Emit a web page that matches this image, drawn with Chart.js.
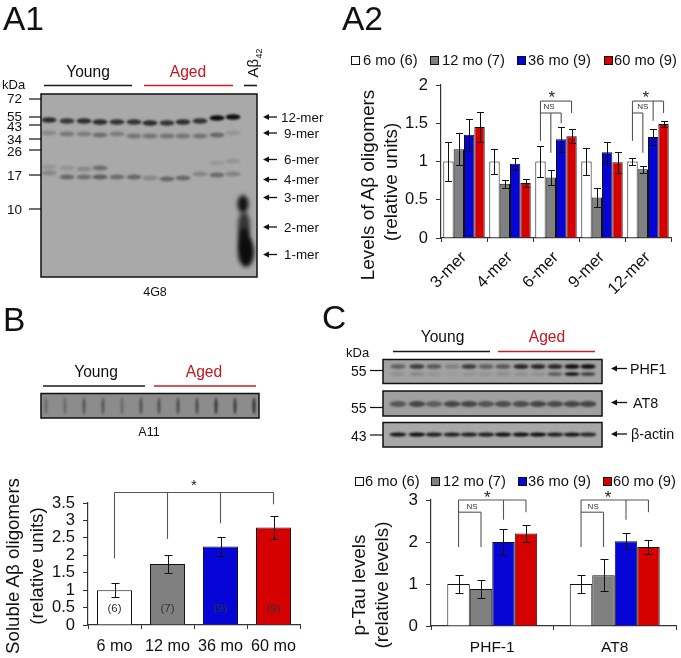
<!DOCTYPE html>
<html>
<head>
<meta charset="utf-8">
<title>Oligomers and p-Tau</title>
<script src="https://cdn.jsdelivr.net/npm/chart.js@4"></script>
<style>
  html, body { margin: 0; padding: 0; background: #fff; overflow: hidden; }
  #page { position: relative; width: 681px; height: 658px; font-family: "Liberation Sans", Arial, sans-serif; color: #111; }
  #page canvas { position: absolute; }
  .txt { position: absolute; white-space: nowrap; line-height: 1; }
  .txt sub { font-size: 62%; line-height: 0; }
  .swatch { position: absolute; box-sizing: border-box; border: 1px solid #111; }
</style>
</head>
<body>
<div id="page"><canvas id="blots" width="681" height="658" style="left:0;top:0"></canvas></div>
<script>
// series colours and legend
const seriesColors = ["#ffffff", "#808080", "#0505d8", "#d50000"];
const legendLabels = ["6 mo (6)", "12 mo (7)", "36 mo (9)", "60 mo (9)"];

// A2: levels of oligomers
const a2Categories = ["3-mer", "4-mer", "6-mer", "9-mer", "12-mer"];
const a2YTicks = [0, 0.5, 1, 1.5, 2];
const a2Six = [1, 1, 1, 1, 1];
const a2Twelve = [1.16, 0.71, 0.79, 0.53, 0.9];
const a2ThirtySix = [1.35, 0.97, 1.29, 1.12, 1.32];
const a2Sixty = [1.45, 0.72, 1.33, 0.99, 1.49];
const a2SixErr = [0.26, 0.16, 0.2, 0.17, 0.04];
const a2TwelveErr = [0.21, 0.05, 0.1, 0.12, 0.045];
const a2ThirtySixErr = [0.21, 0.08, 0.16, 0.14, 0.11];
const a2SixtyErr = [0.2, 0.05, 0.09, 0.14, 0.04];

// B: soluble oligomers
const bCategories = ["6 mo", "12 mo", "36 mo", "60 mo"];
const bYTicks = [0, 0.5, 1, 1.5, 2, 2.5, 3, 3.5];
const bValues = [1, 1.75, 2.25, 2.8];
const bErr = [0.2, 0.27, 0.27, 0.32];
const bCounts = ["(6)", "(7)", "(9)", "(9)"];

// C: p-Tau
const cCategories = ["PHF-1", "AT8"];
const cYTicks = [0, 1, 2, 3];
const cSix = [1, 1];
const cTwelve = [0.88, 1.21];
const cThirtySix = [2, 2.02];
const cSixty = [2.2, 1.88];
const cSixErr = [0.21, 0.21];
const cTwelveErr = [0.21, 0.38];
const cThirtySixErr = [0.3, 0.19];
const cSixtyErr = [0.2, 0.17];

// significance brackets, [category, bar, value, category, bar, value]
const groupLines = (cat, rows) => rows.map(r => [cat, r[0], r[1], cat, r[2], r[3]]);
const a2Brackets = [
  ...groupLines(2, [[0, 1.79, 3, 1.79], [0, 1.79, 0, 1.27], [3, 1.79, 3, 1.634], [0, 1.634, 2, 1.634], [1, 1.634, 1, 1.115], [2, 1.634, 2, 1.5]]),
  ...groupLines(4, [[0, 1.79, 3, 1.79], [0, 1.79, 0, 1.27], [3, 1.79, 3, 1.634], [0, 1.634, 1, 1.634], [1, 1.634, 1, 1.115], [2, 1.79, 2, 1.533]])
];
const cBrackets = [0, 1].flatMap(cat => groupLines(cat, [[0, 3, 3, 3], [0, 3, 0, 1.88], [3, 3, 3, 2.71], [0, 2.71, 1, 2.71], [1, 2.71, 1, 1.88], [2, 3, 2, 2.53]]));
const bBrackets = [[0, 0, 3.8, 3, 0, 3.8], [0, 0, 3.8, 0, 0, 1.91], [1, 0, 3.8, 1, 0, 2.47], [2, 0, 3.8, 2, 0, 2.92], [3, 0, 3.8, 3, 0, 3.46]];

// notes placed on the plots: [category, bar, value, text, font, colour]
const a2Notes = [
  [2, 1.1, 1.83, "*", "17px", "#222"], [4, 1.28, 1.83, "*", "17px", "#222"],
  [2, 0.83, 1.71, "NS", "8px", "#333"], [4, 0.99, 1.71, "NS", "8px", "#333"]
];
const cNotes = [
  [0, 1.28, 3.03, "*", "17px", "#222"], [1, 1.2, 3.03, "*", "17px", "#222"],
  [0, 0.6, 2.85, "NS", "8px", "#333"], [1, 0.54, 2.85, "NS", "8px", "#333"]
];
const bNotes = [
  [1.5, 0, 4.0, "*", "15px", "#222"],
  ...bCounts.map((t, i) => [i, 0, 0.46, t, "11.5px", "#333"])
];

// blot lanes (darkness per lane)
const a1Lanes = [49, 67, 84, 100, 117, 134, 150, 167, 183, 200, 217, 233];
const a1Rows = [
  { y: [120, 121, 121, 122, 122, 122, 123, 123, 122, 121, 118, 117], dark: [0.8, 0.72, 0.78, 0.8, 0.75, 0.75, 0.8, 0.75, 0.78, 0.75, 1, 1], h: 2.8 },
  { y: [133, 134, 134, 135, 134, 136, 136, 136, 136, 136, 135, 133], dark: [0.2, 0.32, 0.28, 0.38, 0.28, 0.34, 0.34, 0.34, 0.34, 0.34, 0.42, 0.12], h: 2.4 },
  { y: [173, 177, 177, 177, 177, 177, 178, 179, 178, 174, 175, 174], dark: [0.22, 0.42, 0.38, 0.48, 0.38, 0.42, 0.2, 0.42, 0.42, 0.22, 0.4, 0.24], h: 2.6 },
  { y: [167, 168, 169, 168, 0, 0, 0, 0, 0, 0, 163, 161], dark: [0.12, 0.12, 0.2, 0.38, 0, 0, 0, 0, 0, 0, 0.1, 0.12], h: 2.4 }
];
const a1Smear = [[243, 204, 5.5, 9, 0.95], [244, 226, 6, 14, 0.75], [246, 252, 8, 15, 1], [244, 240, 6, 12, 0.9]];
const bSlots = [46, 65, 84, 103, 122, 141, 159, 178, 197, 216, 235, 254];
const bSlotDark = [0.3, 0.3, 0.45, 0.45, 0.3, 0.5, 0.5, 0.55, 0.55, 0.7, 0.65, 0.75];
const cLanes = [398, 417, 434, 452, 469, 486, 503, 521, 538, 555, 572, 588];
const phfTop = [0.45, 0.7, 0.5, 0.22, 0.7, 0.45, 0.5, 0.85, 0.85, 0.85, 1, 1];
const phfLow = [0.12, 0.18, 0.1, 0.05, 0.1, 0.1, 0.15, 0.12, 0.12, 0.5, 1, 0.7];
const at8Dark = [0.5, 0.62, 0.45, 0.62, 0.62, 0.52, 0.58, 0.58, 0.62, 0.58, 0.62, 0.62];
const actinDark = [0.95, 1, 0.9, 0.9, 0.9, 0.9, 1, 1, 1, 0.9, 0.95, 0.85];

const page = document.getElementById("page");

// plain html text, x/y is the anchor point
function addText(text, x, y, size, opts = {}) {
  const el = document.createElement("div");
  el.className = "txt";
  el.innerHTML = text;
  el.style.left = x + "px";
  el.style.top = y + "px";
  el.style.fontSize = size + "px";
  if (opts.color) el.style.color = opts.color;
  const tx = opts.align === "left" ? "0" : opts.align === "right" ? "-100%" : "-50%";
  el.style.transform = `translate(${tx}, -50%)` + (opts.rotate ? ` rotate(${opts.rotate}deg)` : "");
  page.appendChild(el);
}

function addLegend(y, swatchX, textX, size) {
  legendLabels.forEach((label, i) => {
    const s = document.createElement("div");
    s.className = "swatch";
    s.style.cssText = `left:${swatchX[i]}px;top:${y - 4.5}px;width:9px;height:9px;background:${seriesColors[i]}`;
    page.appendChild(s);
    addText(label, textX[i], y, size, { align: "left" });
  });
}

// draws a blot panel, bands are [x, y, rx, ry, darkness, blur]
function drawBlot(ctx, x, y, w, h, bg, bands) {
  ctx.save();
  ctx.beginPath();
  ctx.rect(x, y, w, h);
  ctx.clip();
  ctx.fillStyle = bg;
  ctx.fillRect(x, y, w, h);
  bands.forEach(([cx, cy, rx, ry, dark, blur]) => {
    ctx.filter = `blur(${blur}px)`;
    ctx.fillStyle = `rgba(12,12,12,${dark})`;
    ctx.beginPath();
    ctx.ellipse(cx, cy, rx, ry, 0, 0, Math.PI * 2);
    ctx.fill();
  });
  ctx.restore();
  ctx.strokeStyle = "#111";
  ctx.lineWidth = 1.5;
  ctx.strokeRect(x, y, w, h);
}

function line(ctx, x1, y1, x2, y2, color = "#111", width = 1.2) {
  ctx.strokeStyle = color;
  ctx.lineWidth = width;
  ctx.beginPath();
  ctx.moveTo(x1, y1);
  ctx.lineTo(x2, y2);
  ctx.stroke();
}

function arrow(ctx, x1, x2, y) {
  line(ctx, x1 + 4, y, x2, y, "#111", 1.3);
  ctx.fillStyle = "#111";
  ctx.beginPath();
  ctx.moveTo(x1, y);
  ctx.lineTo(x1 + 6, y - 3);
  ctx.lineTo(x1 + 6, y + 3);
  ctx.fill();
}

// blots and their furniture
const bctx = document.getElementById("blots").getContext("2d");

const a1Bands = [];
a1Rows.forEach(row => a1Lanes.forEach((x, i) => {
  if (row.dark[i] > 0) a1Bands.push([x, row.y[i], 7.5, row.h, row.dark[i], 1.2]);
}));
a1Smear.forEach(s => a1Bands.push([...s, 2]));
drawBlot(bctx, 41, 94, 216, 183, "#a9a9a9", a1Bands);

drawBlot(bctx, 41, 393.5, 218, 24.5, "#8c8c8c",
  bSlots.map((x, i) => [x, 406, 1.4, 8.5, bSlotDark[i], 1]));

drawBlot(bctx, 383, 359.5, 219, 24, "#a2a2a2", cLanes.flatMap((x, i) => [
  [x, 366.5, 7.5, 2.3, phfTop[i], 1],
  [x, 374, 7.5, 1.8, phfLow[i], 1]
]));
drawBlot(bctx, 383, 391, 219, 25, "#a0a0a0", cLanes.map((x, i) => [x, 404, 8.5, 3, at8Dark[i], 1.3]));
drawBlot(bctx, 383, 422.5, 219, 24.5, "#a8a8a8", cLanes.map((x, i) => [x, 434.5, 8.5, 2, actinDark[i], 0.8]));

// Young / Aged rules
const black = "#1a1a1a", red = "#c81e28";
line(bctx, 44, 85.5, 132, 85.5, black, 1.6); line(bctx, 144, 85.5, 233, 85.5, red, 1.6); line(bctx, 244, 85.5, 257, 85.5, black, 1.6);
line(bctx, 43, 386, 145, 386, black, 1.6); line(bctx, 154, 386, 256, 386, red, 1.6);
line(bctx, 393, 351.5, 490, 351.5, black, 1.6); line(bctx, 498, 351.5, 595, 351.5, red, 1.6);

// molecular weight markers
const a1Marks = [["72", 99, 99], ["55", 117, 116.5], ["43", 125, 127], ["34", 139, 139.5], ["26", 150, 152], ["17", 175, 176], ["10", 209, 210]];
a1Marks.forEach(([t, tick, y]) => {
  line(bctx, 29, tick, 41, tick);
  addText(t, 22, y, 13.5, { align: "right" });
});
[["55", 370.5, 371], ["55", 407.5, 408], ["43", 435, 436]].forEach(([t, tick, y]) => {
  line(bctx, 370, tick, 383, tick);
  addText(t, 366.5, y, 14, { align: "right" });
});

// arrows with their labels
const a1Arrows = [["12-mer", 117, 281], ["9-mer", 133, 284], ["6-mer", 159.5, 284], ["4-mer", 179.5, 284], ["3-mer", 197.5, 284], ["2-mer", 227, 284], ["1-mer", 254.5, 284]];
a1Arrows.forEach(([t, y, x]) => {
  arrow(bctx, 263, 277, y);
  addText(t, x, y + 0.5, 13.4, { align: "left" });
});
[["PHF1", 368.5, 630], ["AT8", 402.5, 633], ["β-actin", 434, 631]].forEach(([t, y, x]) => {
  arrow(bctx, 611, 627, y);
  addText(t, x, y, 14.3, { align: "left" });
});

// panel letters and blot text
addText("A1", 3, 18.7, 33.5, { align: "left" });
addText("A2", 342, 18.7, 33.5, { align: "left" });
addText("B", 3, 320, 33.5, { align: "left" });
addText("C", 322, 318, 33.5, { align: "left" });
addText("Young", 88, 72, 15.6);
addText("Aged", 188, 72, 15.6, { color: "#c4161c" });
addText("Young", 96, 372, 15.6);
addText("Aged", 204, 372, 15.6, { color: "#c4161c" });
addText("Young", 442.5, 337, 15.6);
addText("Aged", 547, 337, 15.6, { color: "#c4161c" });
addText("kDa", 2, 83.5, 13, { align: "left" });
addText("kDa", 346, 351.5, 13, { align: "left" });
addText("Aβ<sub>42</sub>", 251.5, 63, 15, { rotate: -90 });
addText("4G8", 155, 292, 12.5);
addText("A11", 149, 432, 12.5);

// legends
addLegend(60, [351, 430, 517, 604], [363, 442, 528, 614], 14.7);
addLegend(481, [354.5, 431, 517.5, 603], [365, 443, 528, 613], 14.7);

// axis titles
addText("Levels of Aβ oligomers", 368, 185, 18.9, { rotate: -90 });
addText("(relative units)", 391, 182, 18.9, { rotate: -90 });
addText("Soluble Aβ oligomers", 13, 566, 18.7, { rotate: -90 });
addText("(relative units)", 37, 566, 18.7, { rotate: -90 });
addText("p-Tau levels", 359, 585, 18.9, { rotate: -90 });
addText("(relative levels)", 382, 585, 18.9, { rotate: -90 });

// x position of a bar, fractions interpolate between bars of a group
function barX(chart, cat, bar) {
  if (!Number.isInteger(cat)) return chart.scales.x.getPixelForValue(cat);
  const low = Math.floor(bar), frac = bar - low;
  const x0 = chart.getDatasetMeta(low).data[cat].x;
  return frac ? x0 + (chart.getDatasetMeta(low + 1).data[cat].x - x0) * frac : x0;
}

// error bars, brackets and notes all go through the chart scales
const overlays = {
  id: "overlays",
  afterDatasetsDraw(chart, args, opts) {
    const { ctx, scales } = chart;
    ctx.save();
    ctx.strokeStyle = "#111";
    ctx.lineWidth = 1;
    chart.data.datasets.forEach((ds, d) => {
      chart.getDatasetMeta(d).data.forEach((el, i) => {
        const hi = Math.round(scales.y.getPixelForValue(ds.data[i] + ds.errors[i])) + 0.5;
        const lo = Math.round(scales.y.getPixelForValue(ds.data[i] - ds.errors[i])) + 0.5;
        const x = Math.round(el.x) + 0.5;
        ctx.beginPath();
        ctx.moveTo(x, hi); ctx.lineTo(x, lo);
        ctx.moveTo(x - opts.cap, hi); ctx.lineTo(x + opts.cap, hi);
        ctx.moveTo(x - opts.cap, lo); ctx.lineTo(x + opts.cap, lo);
        ctx.stroke();
      });
    });
    ctx.strokeStyle = "#555";
    ctx.lineWidth = 1.1;
    opts.brackets.forEach(([c1, b1, v1, c2, b2, v2]) => {
      ctx.beginPath();
      ctx.moveTo(barX(chart, c1, b1), scales.y.getPixelForValue(v1));
      ctx.lineTo(barX(chart, c2, b2), scales.y.getPixelForValue(v2));
      ctx.stroke();
    });
    ctx.textAlign = "center";
    ctx.textBaseline = "middle";
    opts.notes.forEach(([cat, bar, value, text, font, color]) => {
      ctx.font = font + ' "Liberation Sans"';
      ctx.fillStyle = color;
      ctx.fillText(text, barX(chart, cat, bar), scales.y.getPixelForValue(value));
    });
    ctx.restore();
  }
};

// one bar chart whose plot area sits exactly on the given rectangle
function makeChart(plot, cats, series, yTicks, yMax, o) {
  const yWidth = 44, xHeight = o.xHeight, topPad = 30, rightPad = 4;
  const canvas = document.createElement("canvas");
  canvas.width = plot.right - plot.left + yWidth + rightPad;
  canvas.height = plot.bottom - plot.top + xHeight + topPad;
  canvas.style.left = plot.left - yWidth + "px";
  canvas.style.top = plot.top - topPad + "px";
  page.appendChild(canvas);

  new Chart(canvas.getContext("2d"), {
    type: "bar",
    plugins: [overlays],
    data: {
      labels: cats,
      datasets: series.map(s => ({
        data: s.values,
        errors: s.errors,
        backgroundColor: s.color,
        borderColor: "#111",
        borderWidth: 1,
        barPercentage: 1,
        categoryPercentage: o.groupWidth
      }))
    },
    options: {
      responsive: false,
      animation: false,
      layout: { padding: { top: topPad, right: rightPad, left: 0, bottom: 0 } },
      plugins: {
        legend: { display: false },
        tooltip: { enabled: false },
        overlays: { cap: o.cap, brackets: o.brackets, notes: o.notes }
      },
      scales: {
        x: {
          offset: true,
          border: { color: "#333", width: 1.2 },
          grid: { offset: true, drawOnChartArea: false, color: "#333", tickLength: 4 },
          ticks: {
            autoSkip: false,
            minRotation: o.rotation,
            maxRotation: o.rotation,
            color: "#111",
            padding: o.xPad,
            font: { family: "Liberation Sans", size: o.xSize }
          },
          afterFit(scale) {
            scale.height = xHeight;
            scale.paddingLeft = 0;
            scale.paddingRight = 0;
          }
        },
        y: {
          min: 0,
          max: yMax,
          border: { color: "#333", width: 1.2 },
          grid: { drawOnChartArea: false, color: "#333", tickLength: 5 },
          afterBuildTicks(scale) {
            scale.ticks = yTicks.map(value => ({ value }));
          },
          ticks: {
            autoSkip: false,
            color: "#111",
            padding: 8,
            font: { family: "Liberation Sans", size: o.ySize },
            callback: value => String(value)
          },
          afterFit(scale) {
            scale.width = yWidth;
            scale.paddingTop = 0;
            scale.paddingBottom = 0;
          }
        }
      }
    }
  });
}

makeChart({ left: 441, top: 85, right: 671, bottom: 238 }, a2Categories, [
  { values: a2Six, errors: a2SixErr, color: seriesColors[0] },
  { values: a2Twelve, errors: a2TwelveErr, color: seriesColors[1] },
  { values: a2ThirtySix, errors: a2ThirtySixErr, color: seriesColors[2] },
  { values: a2Sixty, errors: a2SixtyErr, color: seriesColors[3] }
], a2YTicks, 2, {
  xHeight: 56, rotation: 45, xPad: 6, xSize: 16.5, ySize: 16.5, groupWidth: 0.9, cap: 3.5,
  brackets: a2Brackets, notes: a2Notes
});

makeChart({ left: 88, top: 503, right: 300, bottom: 625 }, bCategories, [
  { values: bValues, errors: bErr, color: seriesColors }
], bYTicks, 3.5, {
  xHeight: 32, rotation: 0, xPad: 8, xSize: 16.2, ySize: 16.5, groupWidth: 0.66, cap: 4,
  brackets: bBrackets, notes: bNotes
});

makeChart({ left: 431, top: 500, right: 676, bottom: 626 }, cCategories, [
  { values: cSix, errors: cSixErr, color: seriesColors[0] },
  { values: cTwelve, errors: cTwelveErr, color: seriesColors[1] },
  { values: cThirtySix, errors: cThirtySixErr, color: seriesColors[2] },
  { values: cSixty, errors: cSixtyErr, color: seriesColors[3] }
], cYTicks, 3, {
  xHeight: 32, rotation: 0, xPad: 8, xSize: 15.5, ySize: 17, groupWidth: 0.734, cap: 4,
  brackets: cBrackets, notes: cNotes
});
</script>
</body>
</html>
